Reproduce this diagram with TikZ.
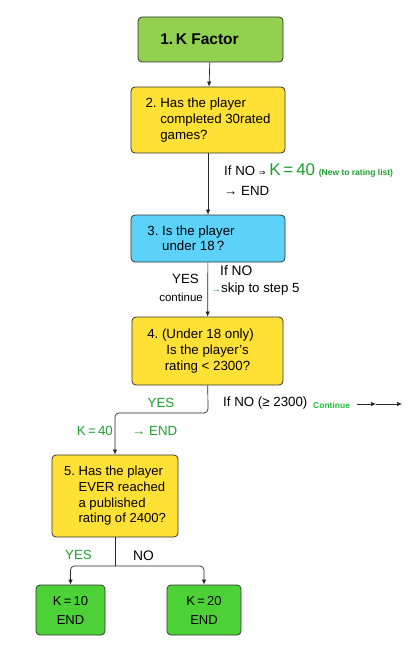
\documentclass[tikz,border=0pt]{standalone}
\usepackage{fontspec}
\setmainfont{Liberation Sans}
\newfontfamily\symfont{DejaVu Sans}
\usetikzlibrary{positioning,arrows.meta,calc}

\definecolor{kgreen}{HTML}{92D050}
\definecolor{egreen}{HTML}{4CD137}
\definecolor{qyellow}{HTML}{FFE135}
\definecolor{qblue}{HTML}{5CD1F9}
\definecolor{tgreen}{HTML}{1E9E2E}
\definecolor{cgreen}{HTML}{22C03A}

\begin{document}
\begin{tikzpicture}[x=1pt,y=-1pt,
			step box/.style={draw=black!80,line width=0.8pt,rounded corners=4pt,inner sep=0,font=\fontsize{13.3}{16}\selectfont},
			lbl/.style={inner sep=0,font=\fontsize{13.3}{14}\selectfont},
			arr/.style={draw=black!85,line width=0.7pt,-{Latex[length=5pt,width=4.5pt]}},
			line/.style={draw=black!85,line width=0.7pt}
		]
		\useasboundingbox (0,0) rectangle (418,658);
		\node[step box,fill=kgreen,minimum width=145pt,minimum height=45pt] (b1) at (210.5,39.5) {\fontsize{15.5}{18}\selectfont\bfseries 1.\,K Factor\hspace*{22pt}};
		\node[step box,fill=qyellow,minimum width=154pt,minimum height=66pt,align=left] (b2) at (208,120) {2.~Has the player\\\hphantom{2.~}completed 30rated\\\hphantom{2.~}games?\hspace*{12pt}};
		\node[step box,fill=qyellow,minimum width=151pt,minimum height=68pt,align=center] (b4) at (207.5,351) {\hspace*{-14pt}4.~(Under 18 only)\\Is the player’s\\rating < 2300?};
		\node[step box,fill=qblue,minimum width=154pt,minimum height=47pt,align=left,font=\fontsize{13.3}{15}\selectfont] (b3) at (208,238.5) {3.~Is the player\hspace*{34pt}\\\hphantom{3.~}under 18\,?};
		\node[step box,fill=qyellow,minimum width=126pt,minimum height=82pt,align=left,font=\fontsize{13.1}{15.7}\selectfont] (b5) at (115,496) {5.~Has the player\\\hphantom{5.~}EVER reached\\\hphantom{5.~}a published\\\hphantom{5.~}rating of 2400?};
		\node[step box,fill=egreen,minimum width=69pt,minimum height=50pt,align=center,font=\fontsize{13}{19}\selectfont] (e10) at (70.5,610) {K\,=\,10\\END};
		\node[step box,fill=egreen,minimum width=74pt,minimum height=50pt,align=center,font=\fontsize{13}{19}\selectfont] (e20) at (204,610) {K\,=\,20\\END};

		\node[lbl,anchor=west] (no2) at (224,170) {If NO {\symfont\fontsize{8}{8}\selectfont ⇒} {\color{tgreen}\fontsize{17}{17}\selectfont K\,=\,40} {\color{tgreen}\fontsize{8.5}{9}\selectfont\bfseries (New to rating list)}};
		\node[lbl,anchor=west] (end2) at (224,191) {→ END};
		\node[lbl,anchor=east] (yes3) at (199,279) {YES};
		\node[lbl,anchor=east,font=\fontsize{11.5}{13}\selectfont] (cont3) at (203,297) {continue};
		\node[lbl,anchor=west,font=\fontsize{13.8}{14}\selectfont] (no3) at (220,271) {If NO};
		\node[lbl,anchor=west] (skip3) at (211,289) {{\color{tgreen}\fontsize{10}{10}\selectfont →}skip to step 5};
		\node[lbl,anchor=center,text=tgreen] (yes4) at (161,403) {YES};
		\node[lbl,anchor=west] (no4) at (223,403) {If NO (≥ 2300)};
		\node[lbl,anchor=west,text=cgreen,font=\fontsize{8.5}{9}\selectfont\bfseries] (cont4) at (313,405) {Continue};
		\node[lbl,anchor=east,text=tgreen] (k40) at (113,431) {K\,=\,40};
		\node[lbl,anchor=west,text=tgreen] (end4) at (132,431) {→ END};
		\node[lbl,anchor=west,text=tgreen] (yes5) at (65,555) {YES};
		\node[lbl,anchor=west,font=\fontsize{13.8}{14}\selectfont] (no5) at (133,556) {NO};

		\coordinate (j4) at (208,413);
		\coordinate (j5) at (115,566);
		\coordinate (c1) at (357,404);
		\coordinate (c2) at (376,404);
		\coordinate (c3) at (402,404);

		\draw[arr] (b1) -- (b2);
		\draw[arr] (b2) -- (b3);
		\draw[arr] (b3) -- (b4);
		\draw[arr,rounded corners=4pt] (b4) -- (j4) -| (b5);
		\draw[line] (b5) -- (j5);
		\draw[arr,rounded corners=4pt] (j5) -| (e10);
		\draw[arr,rounded corners=4pt] (j5) -| (e20);
		\draw[arr] (c1) -- (c2);
		\draw[arr] (c2) -- (c3);
	\end{tikzpicture}
\end{document}
